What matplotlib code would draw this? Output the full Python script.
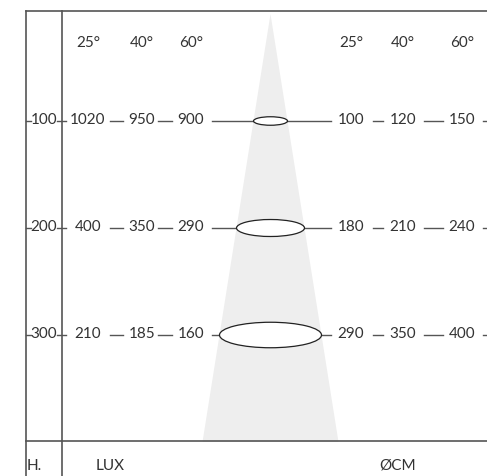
import matplotlib.pyplot as plt
from matplotlib.patches import Ellipse, Polygon

# datos
alturas = [100, 200, 300]
angulos = ['25°', '40°', '60°']
lux = [[1020, 950, 900], [400, 350, 290], [210, 185, 160]]
diametro = [[100, 120, 150], [180, 210, 240], [290, 350, 400]]

# posiciones de las columnas (en pixeles)
x_lux = [88, 142, 191]
x_cm = [351, 403, 462]
x_cono = 270.5
semiancho = 0.17  # semiancho del cono por unidad de altura
h_max = 400

col_linea = '#555555'
col_texto = '#333333'
fuente = dict(family='Lato', fontsize=11, color=col_texto, fontweight='normal')

fig = plt.figure(figsize=(4.87, 4.76), dpi=100)
ax = fig.add_axes([0, 0, 1, 1])
ax.set_xlim(0, 487)
# y en unidades de altura: px = 14 + 1.07 * h
ax.set_ylim((476 - 14) / 1.07, -14 / 1.07)
ax.axis('off')

# cono de luz
ax.add_patch(Polygon([(x_cono, 0), (x_cono - semiancho * h_max, h_max),
                      (x_cono + semiancho * h_max, h_max)],
                     closed=True, facecolor='#eeeeee', edgecolor='none', zorder=0))

# marco
arriba = -3 / 1.07
ax.plot([26, 487], [arriba, arriba], color=col_linea, lw=1.2)
ax.plot([26, 487], [h_max - 0.5, h_max - 0.5], color=col_linea, lw=1.2)
for xv in [26, 62]:
    ax.plot([xv, xv], [arriba, 460], color=col_linea, lw=1.2)

# cabeceras
for a, xl, xc in zip(angulos, x_lux, x_cm):
    ax.text(xl, 27, a, ha='center', va='center', **fuente)
    ax.text(xc, 27, a, ha='center', va='center', **fuente)

for h, fila_lux, fila_cm in zip(alturas, lux, diametro):
    w = 2 * semiancho * h
    # marcas de altura
    ax.plot([26, 31], [h, h], color=col_linea, lw=1)
    ax.plot([57, 66], [h, h], color=col_linea, lw=1)
    ax.text(44, h - 1, str(h), ha='center', va='center', **fuente)
    # valores
    for v, xl in zip(fila_lux, x_lux):
        ax.text(xl, h - 1, str(v), ha='center', va='center', **fuente)
    for v, xc in zip(fila_cm, x_cm):
        ax.text(xc, h - 1, str(v), ha='center', va='center', **fuente)
    # guiones
    for x0, x1 in [(110, 123), (158, 172), (373, 383), (424, 443), (483, 490)]:
        ax.plot([x0, x1], [h, h], color=col_linea, lw=1)
    ax.plot([212, 331], [h, h], color=col_linea, lw=1, zorder=2)
    ax.add_patch(Ellipse((x_cono, h), w, 0.085 * h / 1.07, facecolor='white',
                         edgecolor='#222222', lw=0.9, zorder=3))

# pie
ax.text(27, 422, 'H.', ha='left', va='center', **fuente)
ax.text(110, 422, 'LUX', ha='center', va='center', **fuente)
ax.text(398, 422, 'ØCM', ha='center', va='center', **fuente)

fig.savefig('out.png')
